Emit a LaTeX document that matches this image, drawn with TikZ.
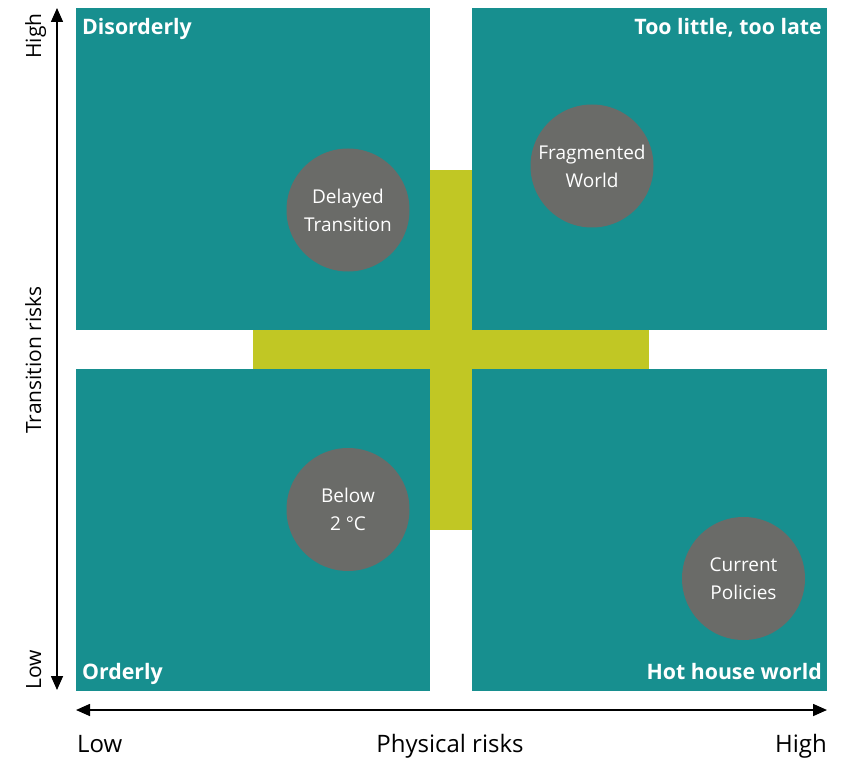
\documentclass[tikz,border=0pt]{standalone}
\usepackage{fontspec}
\setmainfont{Open Sans}
\usetikzlibrary{arrows.meta}
\definecolor{quadteal}{HTML}{178F8F}
\definecolor{crossgreen}{HTML}{C1C724}
\definecolor{dotgray}{HTML}{6A6B68}
\tikzset{
  quad/.style={fill=quadteal, inner sep=0pt, minimum height=322pt},
  qlabel/.style={text=white, font=\fontsize{21.3}{24}\selectfont\bfseries, inner sep=0pt},
  scenario/.style={circle, fill=dotgray, minimum size=123pt, inner sep=0pt,
    text=white, align=center, font=\fontsize{19}{28}\selectfont},
  axislabel/.style={font=\fontsize{21}{26}\selectfont, inner sep=0pt},
  bottomlabel/.style={font=\fontsize{24}{28}\selectfont, inner sep=0pt},
  axis/.style={line width=1.6pt, {Triangle[length=14pt,width=12pt]}-{Triangle[length=14pt,width=12pt]}}
}
\begin{document}
\begin{tikzpicture}[x=1pt,y=-1pt]
      \useasboundingbox (0,0) rectangle (848,759);

      % green cross behind the quadrants
      \fill [crossgreen] (430,170) rectangle (472,530);
      \fill [crossgreen] (253,330) rectangle (649,369);

      % quadrants
      \node (TL) [quad, minimum width=354pt] at (253,169)   {};
      \node (TR) [quad, minimum width=355pt] at (649.5,169) {};
      \node (BL) [quad, minimum width=354pt] at (253,529.5) {};
      \node (BR) [quad, minimum width=355pt] at (649.5,529.5) {};

      % quadrant labels
      \draw (82,35)   node[qlabel, anchor=base west] {Disorderly}
            (822,35)  node[qlabel, anchor=base east] {Too little, too late}
            (82,679)  node[qlabel, anchor=base west] {Orderly}
            (822,679) node[qlabel, anchor=base east] {Hot house world};

      % scenarios
      \node (DT) [scenario] at (348,210)   {Delayed\\Transition};
      \node (FW) [scenario] at (592,166)   {Fragmented\\World};
      \node (B2) [scenario] at (348,509.5) {Below\\2 °C};
      \node (CP) [scenario] at (743.5,578.5) {Current\\Policies};

      % vertical and horizontal axis
      \coordinate (VT) at (57,8);
      \coordinate (VB) at (57,690);
      \coordinate (HL) at (76,710);
      \coordinate (HR) at (827,710);

      \draw [axis] (VB) -- (VT);
      \draw [axis] (HL) -- (HR);

      % vertical labels
      \draw (41,36)  node[axislabel, rotate=90, anchor=base] {High}
            (41,360) node[axislabel, rotate=90, anchor=base] {Transition risks}
            (41,670) node[axislabel, rotate=90, anchor=base] {Low};

      % horizontal labels
      \draw (77,752)  node[bottomlabel, anchor=base west] {Low}
            (450,752) node[bottomlabel, anchor=base]      {Physical risks}
            (827,752) node[bottomlabel, anchor=base east] {High};
\end{tikzpicture}
\end{document}
